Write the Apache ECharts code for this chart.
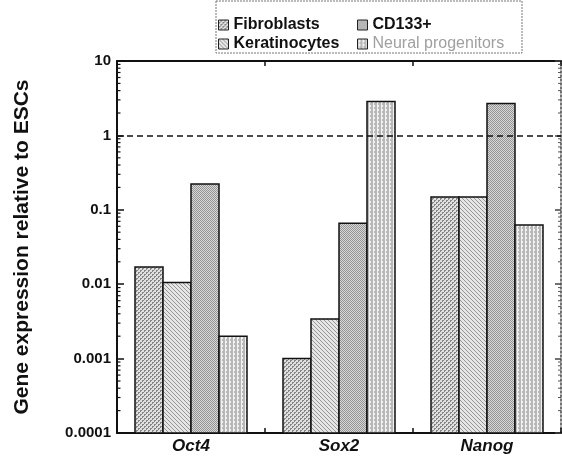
<!DOCTYPE html>
<html><head><meta charset="utf-8">
<script src="https://cdn.jsdelivr.net/npm/echarts@6/dist/echarts.min.js"></script>
<style>html,body{margin:0;padding:0;background:#fff}#c{width:562px;height:464px}</style>
</head><body><div id="c"></div>
<script>
var categories = ['Oct4', 'Sox2', 'Nanog'];
var seriesNames = ['Fibroblasts', 'Keratinocytes', 'CD133+', 'Neural progenitors'];
var fibroblasts = [0.017, 0.001, 0.149];
var keratinocytes = [0.0105, 0.0034, 0.149];
var cd133 = [0.223, 0.066, 2.69];
var neural = [0.002, 2.86, 0.0625];
var yTickLabels = ['0.0001', '0.001', '0.01', '0.1', '1', '10'];
var yMin = 0.0001, yMax = 10;
var referenceLine = 1;

var minorTicks = [];
for (var e = -4; e < 1; e++) { for (var m = 2; m <= 9; m++) { minorTicks.push([0, m * Math.pow(10, e)]); } }

var font = 'Liberation Sans, Arial, sans-serif';

function makePattern(bg, fg, kind) {
  var n = 4;
  var c = document.createElement('canvas');
  c.width = n; c.height = n;
  var ctx = c.getContext('2d');
  ctx.fillStyle = bg; ctx.fillRect(0, 0, n, n);
  ctx.fillStyle = fg;
  for (var i = 0; i < n; i++) {
    for (var j = 0; j < n; j++) {
      var on = false;
      if (kind === 'fwd') on = (i + j) % 4 === 3 || (i + j) % 4 === 2 && i % 2 === 0;
      else if (kind === 'back') on = (i - j + 8) % 4 === 0;
      else if (kind === 'stipple') on = (i + j) % 2 === 0;
      else if (kind === 'grid') on = (i % 3 === 0) || (j % 3 === 0 && i % 2 === 0);
      if (on) ctx.fillRect(i, j, 1, 1);
    }
  }
  return {image: c, repeat: 'repeat'};
}
var fills = [
  makePattern('#e0e0e0', '#858585', 'fwd'),
  makePattern('#e6e6e6', '#959595', 'back'),
  makePattern('#d8d8d8', '#949494', 'stipple'),
  makePattern('#f2f2f2', '#b8b8b8', 'grid')
];
var values = [fibroblasts, keratinocytes, cd133, neural];

var chart = echarts.init(document.getElementById('c'), null, {renderer: 'canvas'});

function barSeries(k) {
  return {
    name: seriesNames[k], type: 'custom', z: 2,
    itemStyle: {color: fills[k], borderColor: '#111', borderWidth: 1.5},
    data: values[k].map(function (v, i) { return [i, v]; }),
    encode: {x: 0, y: 1},
    renderItem: function (params, api) {
      var barW = 28;
      var top = api.coord([api.value(0), api.value(1)]);
      var base = api.coord([api.value(0), yMin]);
      var x = top[0] - 2 * barW + k * barW;
      return {type: 'rect', shape: {x: x, y: top[1], width: barW, height: base[1] - top[1]},
        style: {fill: fills[k], stroke: '#111', lineWidth: 1.5}};
    }
  };
}
var bars = [0, 1, 2, 3].map(barSeries);
bars[0].markLine = {silent: true, symbol: 'none', label: {show: false}, z: 4,
  lineStyle: {color: '#111', type: [6, 4], width: 1.5},
  data: [{yAxis: referenceLine}]};

var minorSeries = {
  type: 'custom', silent: true, data: minorTicks, z: 5,
  renderItem: function (params, api) {
    var cs = params.coordSys;
    var y = api.coord([0, api.value(1)])[1];
    return {type: 'group', children: [
      {type: 'line', shape: {x1: cs.x, y1: y, x2: cs.x + 3.5, y2: y}, style: {stroke: '#111', lineWidth: 1.2}},
      {type: 'line', shape: {x1: cs.x + cs.width - 3, y1: y, x2: cs.x + cs.width, y2: y}, style: {stroke: '#555', lineWidth: 1}}
    ]};
  }
};

var legendText = {fontFamily: font, fontWeight: 'bold', fontSize: 16, color: '#111'};
chart.setOption({
  animation: false,
  backgroundColor: '#fff',
  grid: {left: 117, right: 1, top: 61, bottom: 31},
  legend: [{
    orient: 'vertical', left: 218, top: 17, padding: 0, itemGap: 3, itemWidth: 10, itemHeight: 10, icon: 'rect',
    textStyle: legendText, itemStyle: {borderColor: '#222', borderWidth: 1},
    data: ['Fibroblasts', 'Keratinocytes'], selectedMode: false
  }, {
    orient: 'vertical', left: 357, top: 17, padding: 0, itemGap: 3, itemWidth: 10, itemHeight: 10, icon: 'rect',
    textStyle: legendText, itemStyle: {borderColor: '#222', borderWidth: 1},
    data: ['CD133+', {name: 'Neural progenitors', textStyle: {color: '#a0a0a0', fontWeight: 'normal'}}], selectedMode: false
  }],
  graphic: [{type: 'rect', shape: {x: 216, y: 1, width: 306, height: 52},
    style: {fill: 'none', stroke: '#777', lineWidth: 1, lineDash: [2, 1]}, silent: true}],
  xAxis: [{
    type: 'category', data: categories, position: 'bottom',
    axisLine: {lineStyle: {color: '#111', width: 2}},
    axisTick: {show: true, inside: true, length: 5, lineStyle: {color: '#111', width: 1.5}},
    axisLabel: {fontFamily: font, fontWeight: 'bold', fontStyle: 'italic', fontSize: 17, color: '#111', margin: 5},
    splitLine: {show: false}
  }, {
    type: 'category', data: categories, position: 'top',
    axisLine: {lineStyle: {color: '#111', width: 2}},
    axisTick: {show: true, inside: true, length: 5, lineStyle: {color: '#111', width: 1.5}},
    axisLabel: {show: false}, splitLine: {show: false}
  }],
  yAxis: [{
    type: 'log', logBase: 10, min: yMin, max: yMax, position: 'left',
    name: 'Gene expression relative to ESCs', nameLocation: 'middle', nameGap: 84,
    nameTextStyle: {fontFamily: font, fontWeight: 'bold', fontSize: 21, color: '#111'},
    axisLine: {show: true, lineStyle: {color: '#111', width: 2}},
    axisTick: {show: true, inside: true, length: 7, lineStyle: {color: '#111', width: 1.5}},
    axisLabel: {fontFamily: font, fontWeight: 'bold', fontSize: 15, color: '#111', margin: 6,
      formatter: function (v) { var k = Math.round(Math.log10(v)) + 4; return yTickLabels[k]; }},
    splitLine: {show: false}
  }, {
    type: 'log', logBase: 10, min: yMin, max: yMax, position: 'right',
    axisLine: {show: true, lineStyle: {color: '#444', width: 1.5, type: [2, 2]}},
    axisTick: {show: true, inside: true, length: 6, lineStyle: {color: '#444', width: 1.5}},
    axisLabel: {show: false}, splitLine: {show: false}
  }],
  series: bars.concat([minorSeries])
});
</script></body></html>
